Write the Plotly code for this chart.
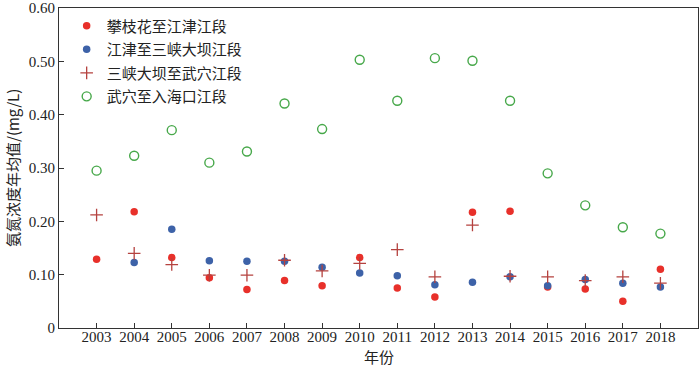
import plotly.graph_objects as go

years = list(range(2003, 2019))
series_names = ["攀枝花至江津江段", "江津至三峡大坝江段", "三峡大坝至武穴江段", "武穴至入海口江段"]

panzhihua_jiangjin = [0.129, 0.218, 0.132, 0.094, 0.072, 0.089, 0.079, 0.132,
                      0.075, 0.058, 0.217, 0.219, 0.077, 0.073, 0.050, 0.110]
jiangjin_sanxia = [None, 0.123, 0.185, 0.126, 0.125, 0.125, 0.114, 0.103,
                   0.098, 0.081, 0.086, 0.096, 0.079, 0.091, 0.084, 0.077]
sanxia_wuxue = [0.212, 0.140, 0.119, 0.099, 0.099, 0.127, 0.107, 0.121,
                0.147, 0.096, 0.193, 0.097, 0.096, 0.089, 0.096, 0.084]
wuxue_haikou = [0.295, 0.323, 0.371, 0.310, 0.331, 0.421, 0.373, 0.503,
                0.426, 0.506, 0.501, 0.426, 0.290, 0.230, 0.189, 0.177]

y_ticks = [0, 0.1, 0.2, 0.3, 0.4, 0.5, 0.6]
y_tick_labels = ["0", "0.10", "0.20", "0.30", "0.40", "0.50", "0.60"]
x_title = "年份"
y_title = "氨氮浓度年均值/(mg/L)"

serif = "Liberation Serif"
cjk = "Noto Sans CJK SC"

fig = go.Figure()
fig.add_trace(go.Scatter(x=years, y=panzhihua_jiangjin, mode="markers", name=series_names[0],
                         legendgroup="a",
                         marker=dict(symbol="circle", size=7.5, color="#e8302a")))
fig.add_trace(go.Scatter(x=years, y=jiangjin_sanxia, mode="markers", name=series_names[1],
                         legendgroup="b",
                         marker=dict(symbol="circle", size=7.5, color="#3d62a8")))
fig.add_trace(go.Scatter(x=years, y=sanxia_wuxue, mode="markers", name=series_names[2],
                         legendgroup="c",
                         marker=dict(symbol="cross-thin", size=9, color="#b5423f",
                                     line=dict(width=1.3, color="#b5423f"))))
fig.add_trace(go.Scatter(x=years, y=wuxue_haikou, mode="markers", name=series_names[3],
                         legendgroup="d",
                         marker=dict(symbol="circle-open", size=9, color="#47a84a",
                                     line=dict(width=1.4, color="#47a84a"))))

fig.update_layout(
    width=700, height=366,
    margin=dict(l=59, r=2, t=8, b=38, autoexpand=False),
    paper_bgcolor="white", plot_bgcolor="white",
    showlegend=True,
    legend=dict(x=0.012, y=0.995, xanchor="left", yanchor="top",
                font=dict(family=cjk, size=15, color="#222"),
                bgcolor="rgba(0,0,0,0)", itemsizing="trace",
                tracegroupgap=1, itemwidth=30),
    xaxis=dict(range=[2002, 2019], tickmode="array", tickvals=years,
               ticktext=[str(y) for y in years],
               ticks="inside", ticklen=5, tickcolor="#333",
               showline=True, linecolor="#333", linewidth=1.2, mirror=True,
               showgrid=False, zeroline=False, automargin=False,
               ticklabelstandoff=-5,
               tickfont=dict(family=serif, size=15, color="#222")),
    yaxis=dict(range=[0, 0.6], tickmode="array", tickvals=y_ticks, ticktext=y_tick_labels,
               ticks="inside", ticklen=5, tickcolor="#333",
               showline=True, linecolor="#333", linewidth=1.2, mirror=True,
               showgrid=False, zeroline=False, automargin=False,
               tickfont=dict(family=serif, size=15, color="#222")),
    annotations=[
        dict(text=x_title, xref="paper", yref="paper", x=0.5, y=-0.0875,
             xanchor="center", yanchor="middle", showarrow=False,
             font=dict(family=cjk, size=15, color="#222")),
        dict(text=y_title, xref="paper", yref="paper", x=-0.0736, y=0.5,
             xanchor="center", yanchor="middle", showarrow=False, textangle=-90,
             font=dict(family=cjk, size=15, color="#222")),
    ],
)

fig.write_html("out.html", config={"displayModeBar": False},
               post_script="document.body.style.margin='0px';document.body.style.padding='0px';")
